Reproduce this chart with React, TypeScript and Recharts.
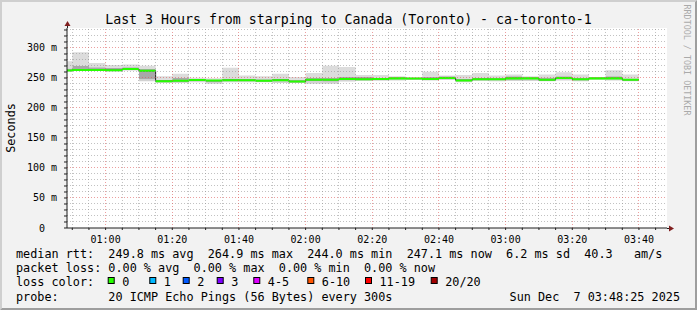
import React from "react";
import {
  ComposedChart, Area, XAxis, YAxis, CartesianGrid, ReferenceLine,
} from "recharts";

// 5-minute bins (start time), values in ms
const binStarts = [
  "00:45", "00:50", "00:55", "01:00", "01:05", "01:10", "01:15", "01:20", "01:25", "01:30",
  "01:35", "01:40", "01:45", "01:50", "01:55", "02:00", "02:05", "02:10", "02:15", "02:20",
  "02:25", "02:30", "02:35", "02:40", "02:45", "02:50", "02:55", "03:00", "03:05", "03:10",
  "03:15", "03:20", "03:25", "03:30", "03:35",
];
const medianMs = [
  262.5, 263.5, 263.2, 263.0, 264.9, 262.0, 244.6, 245.5, 246.5, 245.8,
  246.3, 246.3, 245.5, 246.3, 244.0, 247.2, 247.2, 248.3, 247.8, 248.3,
  249.4, 249.0, 248.3, 250.0, 246.0, 247.8, 247.8, 249.4, 249.4, 247.0,
  250.0, 247.8, 249.4, 249.4, 247.1,
];
const minMs = [
  260.5, 261.5, 261.5, 261.0, 262.5, 244.5, 241.7, 241.7, 243.0, 240.5,
  243.0, 243.0, 242.8, 241.7, 241.7, 240.5, 240.5, 244.0, 245.0, 245.5,
  246.0, 246.5, 246.0, 246.5, 242.8, 245.0, 244.5, 245.0, 245.0, 244.5,
  246.0, 244.5, 247.0, 246.0, 244.5,
];
const q1Ms = [
  261.5, 262.5, 262.5, 262.0, 263.5, 248.0, 243.5, 244.0, 245.0, 243.0,
  245.0, 245.0, 244.5, 244.5, 243.0, 245.0, 244.0, 246.5, 246.5, 247.0,
  247.5, 248.0, 247.5, 248.5, 244.5, 246.5, 246.5, 247.0, 247.5, 246.0,
  248.0, 246.0, 248.0, 248.0, 246.0,
];
const q3Ms = [
  266.0, 270.0, 268.0, 267.0, 268.0, 265.0, 247.0, 250.0, 248.0, 247.0,
  249.0, 248.0, 248.0, 249.0, 247.0, 250.0, 250.0, 251.5, 251.5, 250.5,
  251.0, 250.5, 252.0, 253.0, 248.5, 250.0, 249.5, 253.0, 251.0, 251.0,
  253.0, 249.5, 250.5, 253.0, 249.0,
];
const maxMs = [
  278.0, 293.0, 275.0, 271.7, 272.7, 270.5, 252.8, 257.0, 250.5, 249.5,
  267.0, 254.0, 252.8, 257.2, 251.7, 258.3, 270.5, 268.3, 255.0, 255.0,
  253.0, 251.7, 260.5, 254.0, 255.0, 258.3, 254.0, 256.0, 253.0, 256.0,
  259.4, 256.0, 251.0, 262.8, 256.0,
];

const timeLabels = ["01:00", "01:20", "01:40", "02:00", "02:20", "02:40", "03:00", "03:20", "03:40"];
const valueLabels = [0, 50, 100, 150, 200, 250, 300];

const endTime = "03:48:25";
const title = "Last 3 Hours from starping to Canada (Toronto) - ca-toronto-1";
const rttLine = "median rtt:  249.8 ms avg  264.9 ms max  244.0 ms min  247.1 ms now  6.2 ms sd  40.3   am/s";
const lossLine = "packet loss: 0.00 % avg  0.00 % max  0.00 % min  0.00 % now";
const probeLine = "probe:       20 ICMP Echo Pings (56 Bytes) every 300s";
const dateLine = "Sun Dec  7 03:48:25 2025";
const lossLabels = ["0", "1", "2", "3", "4-5", "6-10", "11-19", "20/20"];
const lossColors = ["#26ff00", "#00b8ff", "#0059ff", "#7e00ff", "#dd00ff", "#ff5500", "#ff0000", "#a10000"];
const lossBoxX = [107.7, 149.3, 182.7, 216.7, 253.3, 307.3, 365, 430.7];

const MONO = '"DejaVu Sans Mono", monospace';
const W = 697;
const H = 310;

const toMinutes = (s: string) => {
  const [h, m, sec] = s.split(":").map(Number);
  return h * 60 + m + (sec || 0) / 60;
};
const xEnd = toMinutes(endTime);
const xStart = xEnd - 180;
const yMax = 333.33;
const medHalf = 1.7; // half thickness of the green median bar, ms

const rows = binStarts.map((s, i) => ({
  t: toMinutes(s),
  base: minMs[i],
  lowBand: q1Ms[i] - minMs[i],
  midBand: q3Ms[i] - q1Ms[i],
  highBand: maxMs[i] - q3Ms[i],
  med: medianMs[i],
  medBase: medianMs[i] - medHalf,
  medBand: medHalf * 2,
}));
const lastRow = rows[rows.length - 1];
const data = [...rows, { ...lastRow, t: lastRow.t + 5 }];

const xTicks: number[] = [];
for (let t = Math.ceil(xStart / 5) * 5; t < xEnd; t += 5) xTicks.push(t);
const majorX = timeLabels.map(toMinutes);
const minorX = xTicks.filter(t => !majorX.includes(t));
const yTicks: number[] = [];
for (let v = 0; v < yMax; v += 10) yTicks.push(v);
const minorY = yTicks.filter(v => v > 0 && !valueLabels.includes(v));
const majorY = valueLabels.filter(v => v > 0);

const fmtTime = (t: number) => {
  const h = Math.floor(t / 60);
  const m = Math.round(t - h * 60);
  return `${String(h).padStart(2, "0")}:${String(m).padStart(2, "0")}`;
};

const XTick = (props: any) => {
  const { x, y, payload } = props;
  const label = fmtTime(payload.value);
  if (!timeLabels.includes(label)) return <g />;
  return (
    <text x={x} y={y} dy={10.5} textAnchor="middle" fontFamily={MONO} fontSize={10} fill="#000">
      {label}
    </text>
  );
};

const YTick = (props: any) => {
  const { x, y, payload } = props;
  const v = payload.value;
  if (!valueLabels.includes(v)) return <g />;
  return (
    <text x={x - 5 - (v === 0 ? 12 : 0)} y={y} dy={3.5} textAnchor="end" fontFamily={MONO} fontSize={10} fill="#000">
      {v === 0 ? "0" : `${v} m`}
    </text>
  );
};

const minorGrid = { stroke: "#8f8f8f", strokeOpacity: 0.55, strokeDasharray: "1 2", shapeRendering: "crispEdges" };
const majorGrid = { stroke: "#de5050", strokeOpacity: 0.55, strokeDasharray: "1 2", shapeRendering: "crispEdges" };

export default function App() {
  const legendY = [257.5, 272, 286.3, 300.6];
  return (
    <div style={{ position: "absolute", left: 0, top: 0, width: W, height: H }}>
      <svg width={W} height={H} style={{ position: "absolute", left: 0, top: 0 }}>
        <rect x={0} y={0} width={W} height={H} fill="#f2f2f2" />
        <polygon points={`0,0 ${W},0 ${W - 2},2 2,2 2,${H - 2} 0,${H}`} fill="#cfcfcf" />
        <polygon points={`${W},0 ${W},${H} 0,${H} 2,${H - 2} ${W - 2},${H - 2} ${W - 2},2`} fill="#9e9e9e" />
        <text x={348.5} y={24} textAnchor="middle" fontFamily={MONO} fontSize={13.25} fill="#000">{title}</text>
        <text transform="translate(11,128) rotate(-90)" textAnchor="middle" dominantBaseline="central"
          fontFamily={MONO} fontSize={11.8} fill="#000">Seconds</text>
        <text transform="translate(687,60) rotate(90)" textAnchor="middle" dominantBaseline="central"
          fontFamily={MONO} fontSize={8.4} fill="#aaaaaa">RRDTOOL / TOBI OETIKER</text>
        {/* axis extensions + arrows */}
        <line x1={67.5} y1={28} x2={67.5} y2={25} stroke="#1f1f1f" />
        <polygon points="67.5,21 64.5,26 70.5,26" fill="#801f1f" />
        <line x1={667} y1={228.5} x2={670} y2={228.5} stroke="#1f1f1f" />
        <polygon points="674,228.5 669,225.5 669,231.5" fill="#801f1f" />
        <g fontFamily={MONO} fontSize={11.8} fill="#000" style={{ whiteSpace: "pre" }}>
          <text x={16} y={legendY[0]} xmlSpace="preserve">{rttLine}</text>
          <text x={16} y={legendY[1]} xmlSpace="preserve">{lossLine}</text>
          <text x={16} y={legendY[2]} xmlSpace="preserve">loss color:</text>
          {lossLabels.map((l, i) => (
            <g key={l}>
              <rect x={lossBoxX[i] + 0.5} y={277.5} width={6} height={6} fill={lossColors[i]} stroke="#000" />
              <text x={lossBoxX[i] + 14.5} y={legendY[2]}>{l}</text>
            </g>
          ))}
          <text x={16} y={legendY[3]} xmlSpace="preserve">{probeLine}</text>
          <text x={680} y={legendY[3]} textAnchor="end" xmlSpace="preserve">{dateLine}</text>
        </g>
      </svg>
      <div style={{ position: "absolute", left: 0, top: 0 }}>
        <ComposedChart width={W} height={H} data={data} margin={{ top: 28, right: 30, bottom: 62, left: 7 }}>
          <CartesianGrid horizontal={false} vertical={false} fill="#ffffff" />
          <XAxis
            type="number" dataKey="t" domain={[xStart, xEnd]} allowDataOverflow
            ticks={xTicks} interval={0} tickSize={2} height={20}
            tick={XTick} tickLine={{ stroke: "#1f1f1f" }} axisLine={{ stroke: "#1f1f1f" }}
          />
          <YAxis
            type="number" domain={[0, yMax]} allowDataOverflow width={60}
            ticks={yTicks} interval={0} tickSize={3}
            tick={YTick} tickLine={{ stroke: "#1f1f1f" }} axisLine={{ stroke: "#1f1f1f" }}
          />
          <Area stackId="smoke" dataKey="base" type="stepAfter" fill="none" stroke="none" isAnimationActive={false} />
          <Area stackId="smoke" dataKey="lowBand" type="stepAfter" fill="#d2d2d2" fillOpacity={1} stroke="none" isAnimationActive={false} />
          <Area stackId="smoke" dataKey="midBand" type="stepAfter" fill="#a8a8a8" fillOpacity={1} stroke="none" isAnimationActive={false} />
          <Area stackId="smoke" dataKey="highBand" type="stepAfter" fill="#dcdcdc" fillOpacity={1} stroke="none" isAnimationActive={false} />
          {/* dark median step (only its vertical joins stay visible) */}
          <Area dataKey="med" type="stepAfter" fill="none" stroke="#202020" strokeWidth={1} dot={false} activeDot={false} isAnimationActive={false} />
          <Area stackId="med" dataKey="medBase" type="stepAfter" fill="none" stroke="none" activeDot={false} isAnimationActive={false} />
          <Area stackId="med" dataKey="medBand" type="stepAfter" fill="#26ff00" fillOpacity={1} stroke="none" activeDot={false} isAnimationActive={false} />
          {minorX.map(t => <ReferenceLine key={`vx${t}`} x={t} {...minorGrid} />)}
          {minorY.map(v => <ReferenceLine key={`hy${v}`} y={v} {...minorGrid} />)}
          {majorX.map(t => <ReferenceLine key={`mx${t}`} x={t} {...majorGrid} />)}
          {majorY.map(v => <ReferenceLine key={`my${v}`} y={v} {...majorGrid} />)}
        </ComposedChart>
      </div>
    </div>
  );
}
